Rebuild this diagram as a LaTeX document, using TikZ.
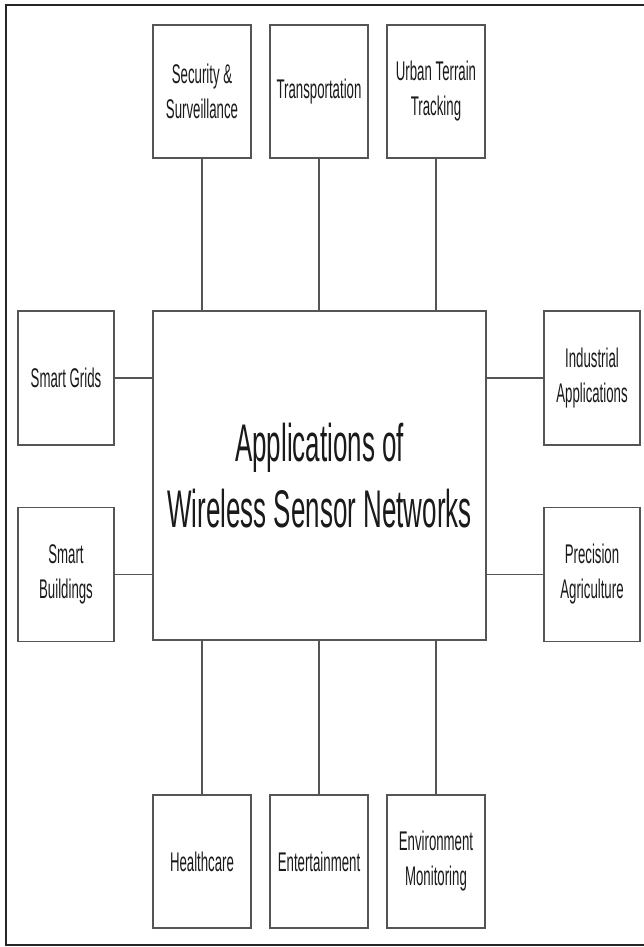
\documentclass[tikz,border=0pt]{standalone}
\usepackage{fontspec}
\newfontfamily\narrowfont[FakeStretch=0.49]{Liberation Sans}
\definecolor{boxline}{HTML}{555555}
\definecolor{txt}{HTML}{1A1A1A}
\begin{document}
\begin{tikzpicture}[x=1pt,y=-1pt,
  appbox/.style={draw=boxline, line width=1.5pt, fill=white, rectangle, inner sep=2pt,
    align=center, text=txt, font=\narrowfont\fontsize{27}{35}\selectfont},
  topbox/.style={appbox, minimum width=98pt, minimum height=133pt},
  sidebox/.style={appbox, minimum width=96pt, minimum height=134pt},
  mainbox/.style={draw=boxline, line width=1.5pt, rectangle, minimum width=333pt, minimum height=329pt,
    align=center, text=txt, font=\narrowfont\fontsize{53}{66}\selectfont},
  link/.style={draw=boxline, line width=1.5pt},
  frameline/.style={draw=black!85, line width=1.6pt}]
\useasboundingbox (0,0) rectangle (644,947);
\fill[white] (0,0) rectangle (644,947);
\draw[frameline] (644,5) -- (6,5) -- (6,945) -- (644,945);

\node[mainbox] (main) at (319.5,475.5) {Applications of\\Wireless Sensor Networks};

\node[topbox] (sec) at (202,91.5) {Security \&\\Surveillance};
\node[topbox] (tra) at (319,91.5) {Transportation};
\node[topbox] (urb) at (436,91.5) {Urban Terrain\\Tracking};

\node[sidebox] (grid) at (66,378) {Smart Grids};
\node[sidebox] (bld) at (66,574.5) {Smart\\Buildings};
\node[sidebox] (ind) at (592,378) {Industrial\\Applications};
\node[sidebox] (pre) at (592,574.5) {Precision\\Agriculture};

\node[topbox] (hea) at (202,861.5) {Healthcare};
\node[topbox] (ent) at (319,861.5) {Entertainment};
\node[topbox] (env) at (436,861.5) {Environment\\Monitoring};

\foreach \b in {sec,tra,urb} \draw[link] (\b.south) -- (\b.south |- main.north);
\foreach \b in {hea,ent,env} \draw[link] (\b.north) -- (\b.north |- main.south);
\foreach \b in {grid,bld} \draw[link] (\b.east) -- (\b.east -| main.west);
\foreach \b in {ind,pre} \draw[link] (\b.west) -- (\b.west -| main.east);
\end{tikzpicture}
\end{document}
